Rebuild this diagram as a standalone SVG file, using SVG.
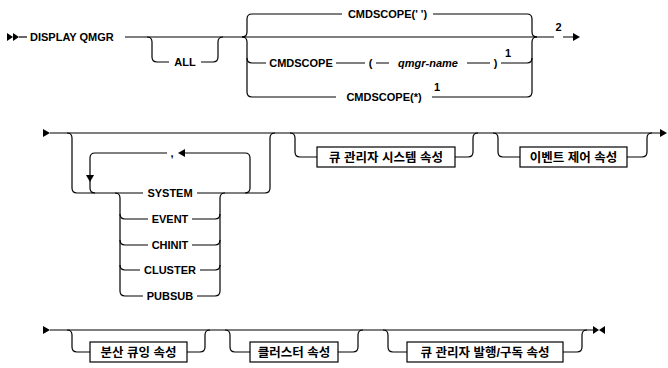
<svg xmlns="http://www.w3.org/2000/svg" width="668" height="368" viewBox="0 0 668 368">
<style>
.k{font-family:"Liberation Sans",Arial,sans-serif;font-size:11px;font-weight:700;fill:#000}
.v{font-family:"Liberation Sans",Arial,sans-serif;font-size:11px;font-weight:700;font-style:italic;fill:#000}
.kr{font-family:"Liberation Sans","Noto Sans CJK KR",sans-serif;font-size:12.5px;font-weight:700;fill:#000}
.l{fill:none;stroke:#000;stroke-width:1.2}
.b{fill:#fff;stroke:#000;stroke-width:1.2}
.a{fill:#000}
</style>
<rect width="668" height="368" fill="#fff"/>
<g id="connectors">
<!-- row 1 -->
<polygon class="a" points="7,33 13,37 7,41"/>
<polygon class="a" points="13,33 19,37 13,41"/>
<path class="l" d="M19 37H27"/>
<path class="l" d="M125 37H554M563 37H573"/>
<polygon class="a" points="573,33 580,37 573,41"/>
<path class="l" d="M147 37q5 0 5 5V57q0 5 5 5H169M201 62H213q5 0 5-5V42q0-5 5-5"/>
<path class="l" d="M242 37q5 0 5-5V19q0-5 5-5H342M433 14H527q5 0 5 5V32q0 5 5 5"/>
<path class="l" d="M242 37q5 0 5 5V92q0 5 5 5H336M432 97H527q5 0 5-5V42q0-5 5-5"/>
<path class="l" d="M247 58q0 5 5 5H266M336 63H365M376 63H389M467 63H490M501 63H527q5 0 5-5"/>
<!-- row 2 -->
<polygon class="a" points="43,129 50,133 43,137"/>
<path class="l" d="M50 133H660"/>
<polygon class="a" points="660,129 667,133 660,137"/>
<path class="l" d="M67 133q5 0 5 5V188q0 5 5 5H143M197 193H265q5 0 5-5V138q0-5 5-5"/>
<path class="l" d="M245 193q5 0 5-5V158q0-5-5-5H185M167 153H95q-5 0-5 5V188q0 5 5 5"/>
<polygon class="a" points="185,149 178,153 185,157"/>
<polygon class="a" points="86,175 94,175 90,182"/>
<path class="l" d="M115 193q5 0 5 5V291q0 5 5 5H143M197 296H215q5 0 5-5V198q0-5 5-5"/>
<path class="l" d="M120 214q0 5 5 5H148M192 219H215q5 0 5-5"/>
<path class="l" d="M120 240q0 5 5 5H148M192 245H215q5 0 5-5"/>
<path class="l" d="M120 265q0 5 5 5H140M200 270H215q5 0 5-5"/>
<path class="l" d="M290 133q5 0 5 5V152q0 5 5 5H317M455 157H468q5 0 5-5V138q0-5 5-5"/>
<path class="l" d="M493 133q5 0 5 5V152q0 5 5 5H520M627 157H642q5 0 5-5V138q0-5 5-5"/>
<!-- row 3 -->
<polygon class="a" points="43,326 50,330 43,334"/>
<path class="l" d="M50 330H593"/>
<polygon class="a" points="593,326 599,330 593,334"/>
<polygon class="a" points="605,326 599,330 605,334"/>
<path class="l" d="M67 330q5 0 5 5V347q0 5 5 5H90M187 352H200q5 0 5-5V335q0-5 5-5"/>
<path class="l" d="M225 330q5 0 5 5V347q0 5 5 5H250M338 352H353q5 0 5-5V335q0-5 5-5"/>
<path class="l" d="M383 330q5 0 5 5V347q0 5 5 5H407M563 352H577q5 0 5-5V335q0-5 5-5"/>
</g>
<g id="display-qmgr"><text class="k" x="30" y="41">DISPLAY QMGR</text></g>
<g id="all"><text class="k" x="185" y="66" text-anchor="middle">ALL</text></g>
<g id="cmdscope-blank"><text class="k" x="387.5" y="18" text-anchor="middle">CMDSCOPE(' ')</text></g>
<g id="cmdscope-qmgr">
<text class="k" x="301" y="67" text-anchor="middle">CMDSCOPE</text>
<text class="k" x="370.5" y="67" text-anchor="middle">(</text>
<text class="v" x="428" y="67" text-anchor="middle">qmgr-name</text>
<text class="k" x="495.5" y="67" text-anchor="middle">)</text>
<text class="k" x="508" y="57" text-anchor="middle">1</text>
</g>
<g id="cmdscope-star">
<text class="k" x="384" y="101" text-anchor="middle">CMDSCOPE(*)</text>
<text class="k" x="437" y="91" text-anchor="middle">1</text>
</g>
<g id="note2"><text class="k" x="558.5" y="31" text-anchor="middle">2</text></g>
<g id="comma"><text class="k" x="172" y="157" text-anchor="middle">,</text></g>
<g id="system"><text class="k" x="170" y="197" text-anchor="middle">SYSTEM</text></g>
<g id="event"><text class="k" x="170" y="223" text-anchor="middle">EVENT</text></g>
<g id="chinit"><text class="k" x="170" y="249" text-anchor="middle">CHINIT</text></g>
<g id="cluster"><text class="k" x="170" y="274" text-anchor="middle">CLUSTER</text></g>
<g id="pubsub"><text class="k" x="170" y="300" text-anchor="middle">PUBSUB</text></g>
<g id="qmgr-system-attrs"><rect class="b" x="317" y="147" width="138" height="20"/><text class="kr" x="386" y="161.5" text-anchor="middle">큐 관리자 시스템 속성</text></g>
<g id="event-control-attrs"><rect class="b" x="520" y="147" width="107" height="20"/><text class="kr" x="573.5" y="161.5" text-anchor="middle">이벤트 제어 속성</text></g>
<g id="dq-attrs"><rect class="b" x="90" y="342" width="97" height="20"/><text class="kr" x="138.5" y="356.5" text-anchor="middle">분산 큐잉 속성</text></g>
<g id="cluster-attrs"><rect class="b" x="250" y="342" width="88" height="20"/><text class="kr" x="294" y="356.5" text-anchor="middle">클러스터 속성</text></g>
<g id="pubsub-attrs"><rect class="b" x="407" y="342" width="156" height="20"/><text class="kr" x="485" y="356.5" text-anchor="middle">큐 관리자 발행/구독 속성</text></g>
</svg>
